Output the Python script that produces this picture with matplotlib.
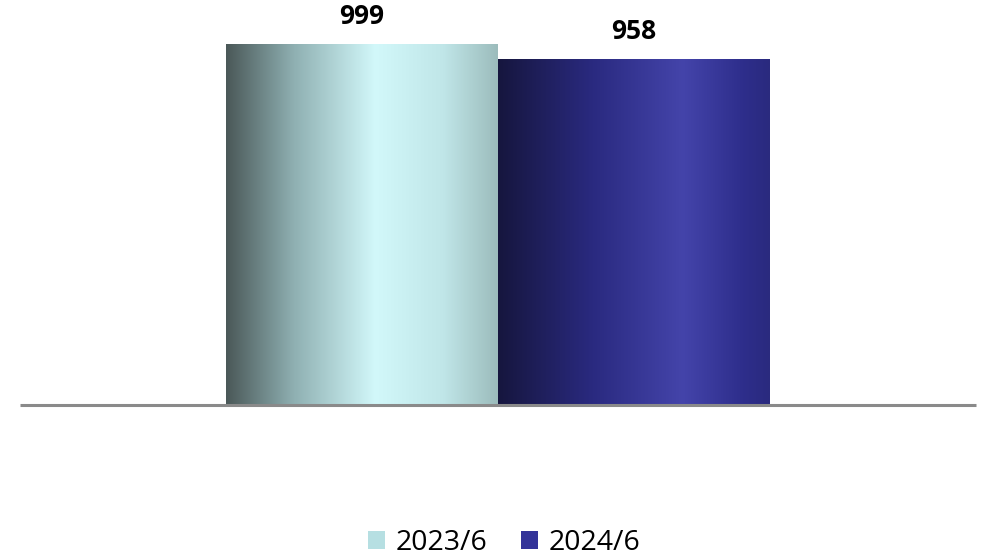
import matplotlib.pyplot as plt
import numpy as np
from matplotlib.colors import LinearSegmentedColormap
from matplotlib.patches import Patch

plt.rcParams['font.family'] = ['Open Sans', 'DejaVu Sans']

series = ["2023/6", "2024/6"]
values = [999, 958]
legend_colors = ["#b6dfe2", "#333399"]

# horizontal shading stops for each bar (cylinder-like look)
shades = [
    [(0.0, "#4a5858"), (0.25, "#8fb0b2"), (0.55, "#d2f8fa"), (0.8, "#c0e6e8"), (1.0, "#9cbcbc")],
    [(0.0, "#16163e"), (0.35, "#2a2a80"), (0.68, "#4444aa"), (0.9, "#2e2e8c"), (1.0, "#2a2a7e")],
]

fig = plt.figure(figsize=(9.9, 5.6), dpi=100)
ax = fig.add_axes([20 / 990, 1 - 405 / 560, 956 / 990, 380 / 560])

width = 272 / 956
xs = [-width / 2, width / 2]
bars = ax.bar(xs, values, width=width, color="none", edgecolor="none")

grad = np.linspace(0, 1, 256).reshape(1, -1)
for bar, stops, v in zip(bars, shades, values):
    x0, w, h = bar.get_x(), bar.get_width(), bar.get_height()
    cmap = LinearSegmentedColormap.from_list("s", stops)
    im = ax.imshow(grad, cmap=cmap, aspect="auto", extent=(x0, x0 + w, 0, h),
                   interpolation="bicubic", zorder=2)
    im.set_clip_path(bar)
    ax.annotate(f"{v}", (x0 + w / 2, h), xytext=(0, 14.5), textcoords="offset points",
                ha="center", va="baseline", fontsize=19, fontweight="bold",
                annotation_clip=False)

ax.axhline(0, color="#8a8a8a", lw=2.2, zorder=3, clip_on=False, solid_capstyle="butt")
ax.set_xlim(-0.5, 0.5)
ax.set_ylim(0, 999 * 380 / 361)
ax.axis("off")

handles = [Patch(facecolor=c, edgecolor="none") for c in legend_colors]
fig.legend(handles, series, loc="center", bbox_to_anchor=(504 / 990, 1 - 543 / 560),
           ncol=2, frameon=False, fontsize=20.5, handlelength=0.6, handleheight=0.6,
           handletextpad=0.35, columnspacing=1.2)

fig.savefig("out.png", dpi=100)
